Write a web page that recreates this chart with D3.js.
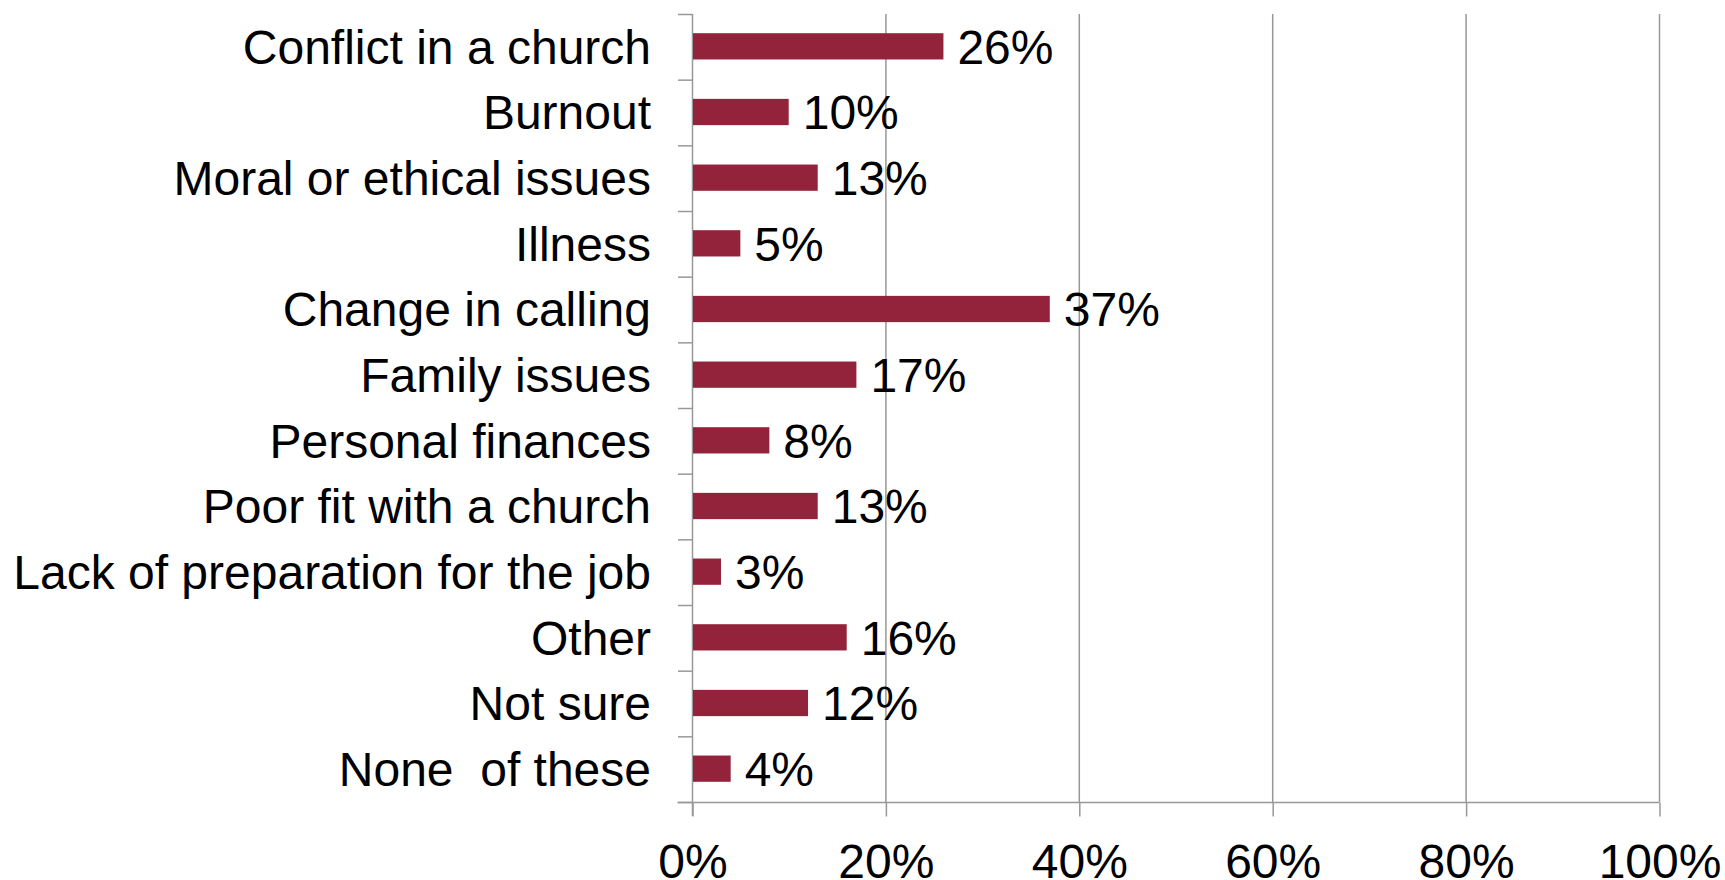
<!DOCTYPE html>
<html>
<head>
<meta charset="utf-8">
<script src="https://cdn.jsdelivr.net/npm/d3@7"></script>
<style>
  html, body { margin: 0; padding: 0; background: #fff; }
  svg { display: block; font-family: "Liberation Sans", Arial, sans-serif; }
</style>
</head>
<body>
<svg id="chart" width="1725" height="880"></svg>
<script>
const categories = [
  "Conflict in a church",
  "Burnout",
  "Moral or ethical issues",
  "Illness",
  "Change in calling",
  "Family issues",
  "Personal finances",
  "Poor fit with a church",
  "Lack of preparation for the job",
  "Other",
  "Not sure",
  "None  of these"
];
const values = [26, 10, 13, 5, 37, 17, 8, 13, 3, 16, 12, 4];
const tickValues = [0, 20, 40, 60, 80, 100];
const tickLabels = ["0%", "20%", "40%", "60%", "80%", "100%"];

(function () {
const svg = d3.select("#chart");
const plotLeft = 692, plotRight = 1659, plotTop = 14, plotBottom = 802;
const gridColor = "#989898";
const barColor = "#92233A";
const fontSize = 48;

const x = d3.scaleLinear().domain([0, 100]).range([plotLeft, plotRight]);
const y = d3.scaleBand().domain(categories).range([plotTop, plotBottom])
  .paddingInner(0.6).paddingOuter(0.3);

// gridlines
svg.append("g").selectAll("line")
  .data(tickValues.filter(d => d > 0))
  .join("line")
  .attr("x1", d => x(d) + 0.5).attr("x2", d => x(d) + 0.5)
  .attr("y1", plotTop).attr("y2", plotBottom)
  .attr("stroke", gridColor).attr("stroke-width", 1.5);

// value axis (bottom)
const xAxis = d3.axisBottom(x)
  .tickValues(tickValues)
  .tickFormat((d, i) => tickLabels[i])
  .tickSizeInner(14).tickSizeOuter(0).tickPadding(27);
const gx = svg.append("g").attr("transform", `translate(0.5,${plotBottom + 0.5})`).call(xAxis);
gx.select(".domain").attr("stroke", gridColor).attr("stroke-width", 1.5)
  .attr("d", `M${plotLeft - 15},0H${plotRight}`);
gx.selectAll(".tick line").attr("stroke", gridColor).attr("stroke-width", 1.5);
gx.selectAll(".tick text")
  .attr("font-size", fontSize).attr("fill", "#000")
  .attr("font-family", "Liberation Sans, Arial, sans-serif");

// category axis (left) with ticks at band boundaries
const boundaries = categories.map(c => y(c) - y.step() * y.paddingInner() / 2);
boundaries[0] = plotTop;
boundaries.push(plotBottom);
svg.append("g").selectAll("line")
  .data(boundaries)
  .join("line")
  .attr("x1", plotLeft - 14).attr("x2", plotLeft)
  .attr("y1", d => d + 0.5).attr("y2", d => d + 0.5)
  .attr("stroke", gridColor).attr("stroke-width", 1.5);
svg.append("line")
  .attr("x1", plotLeft + 0.5).attr("x2", plotLeft + 0.5)
  .attr("y1", plotTop).attr("y2", plotBottom + 14)
  .attr("stroke", gridColor).attr("stroke-width", 1.5);

// category labels
svg.append("g").selectAll("text")
  .data(categories)
  .join("text")
  .attr("x", plotLeft - 41)
  .attr("y", d => y(d) + y.bandwidth() / 2)
  .attr("dy", "0.35em")
  .attr("text-anchor", "end")
  .attr("font-size", fontSize)
  .attr("fill", "#000")
  .style("white-space", "pre")
  .text(d => d);

// bars
svg.append("g").selectAll("rect")
  .data(categories)
  .join("rect")
  .attr("x", plotLeft + 1)
  .attr("y", d => y(d) - 0.5)
  .attr("width", (d, i) => x(values[i]) - plotLeft - 1)
  .attr("height", y.bandwidth())
  .attr("fill", barColor);

// value labels
svg.append("g").selectAll("text")
  .data(categories)
  .join("text")
  .attr("x", (d, i) => x(values[i]) + 14)
  .attr("y", d => y(d) + y.bandwidth() / 2)
  .attr("dy", "0.35em")
  .attr("font-size", fontSize)
  .attr("fill", "#000")
  .text((d, i) => values[i] + "%");
})();
</script>
</body>
</html>
